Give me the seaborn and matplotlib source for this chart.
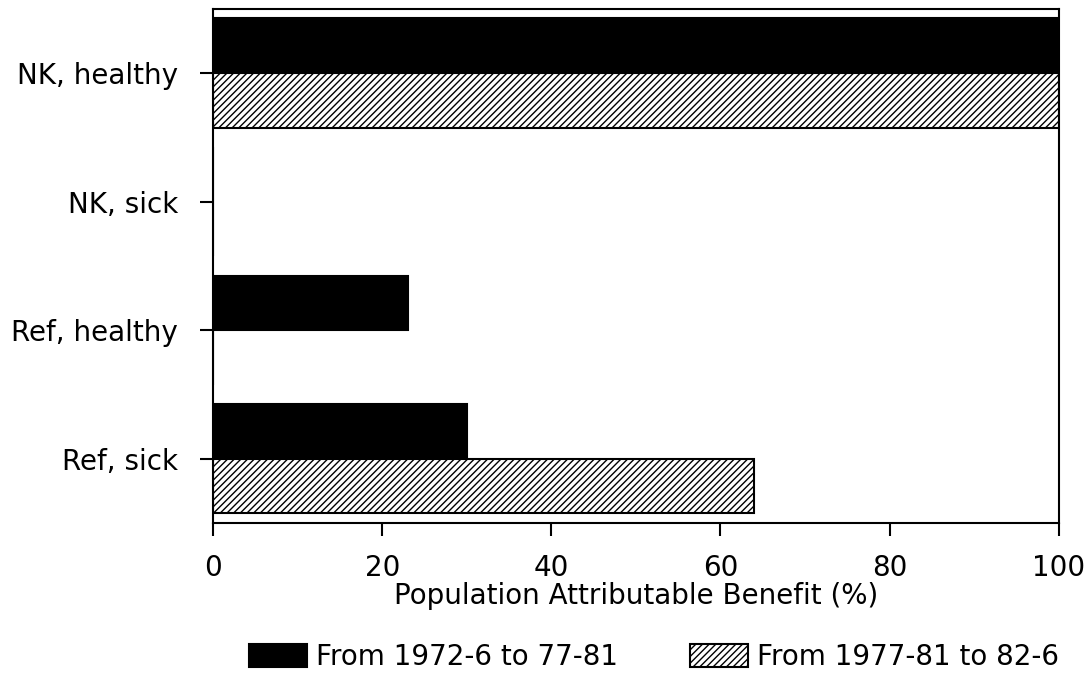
import pandas as pd
import matplotlib
matplotlib.use('Agg')
import matplotlib.pyplot as plt
import seaborn as sns

# values
groups = ['NK, healthy', 'NK, sick', 'Ref, healthy', 'Ref, sick']
period_1 = [100, 0, 23, 30]
period_2 = [100, 0, 0, 64]
series_names = ['From 1972-6 to 77-81', 'From 1977-81 to 82-6']

df = pd.DataFrame({
    'group': groups * 2,
    'benefit': period_1 + period_2,
    'period': [series_names[0]] * len(groups) + [series_names[1]] * len(groups),
})

sns.set_style("ticks")
plt.rcParams['font.family'] = ['DejaVu Sans']
plt.rcParams['hatch.linewidth'] = 1.0
plt.rcParams['hatch.color'] = 'black'
plt.rcParams['text.color'] = 'black'
plt.rcParams['axes.labelcolor'] = 'black'
plt.rcParams['xtick.color'] = 'black'
plt.rcParams['ytick.color'] = 'black'

fig = plt.figure(figsize=(10.88, 6.75), dpi=100)
ax = fig.add_axes([0.196, 0.225, 0.777, 0.762])

sns.barplot(
    data=df, x='benefit', y='group', hue='period', orient='h',
    palette=['black', 'white'], edgecolor='black', linewidth=1.5,
    width=0.85, saturation=1, ax=ax, legend=False
)

# hatch the second period
for bar in ax.containers[1]:
    bar.set_hatch('/////')

ax.set_xlim(0, 100)
ax.set_ylim(3.5, -0.5)
ax.set_xticks([0, 20, 40, 60, 80, 100])
ax.set_xlabel('Population Attributable Benefit (%)', fontsize=20, labelpad=0)
ax.set_ylabel('')
ax.tick_params(axis='both', direction='out', length=9.4, width=1.5, labelsize=20)
ax.tick_params(axis='y', pad=16)
ax.tick_params(axis='x', pad=13)
for side in ['left', 'right', 'top', 'bottom']:
    ax.spines[side].set_visible(True)
    ax.spines[side].set_linewidth(1.5)
    ax.spines[side].set_color('black')

handles = [ax.containers[0][0], ax.containers[1][0]]
fig.legend(handles, series_names, loc='center', bbox_to_anchor=(0.601, 0.027),
           ncol=2, frameon=False, fontsize=20, handlelength=2.1, handleheight=0.9,
           handletextpad=0.3, columnspacing=2.6)

fig.savefig('out.png', dpi=100)
